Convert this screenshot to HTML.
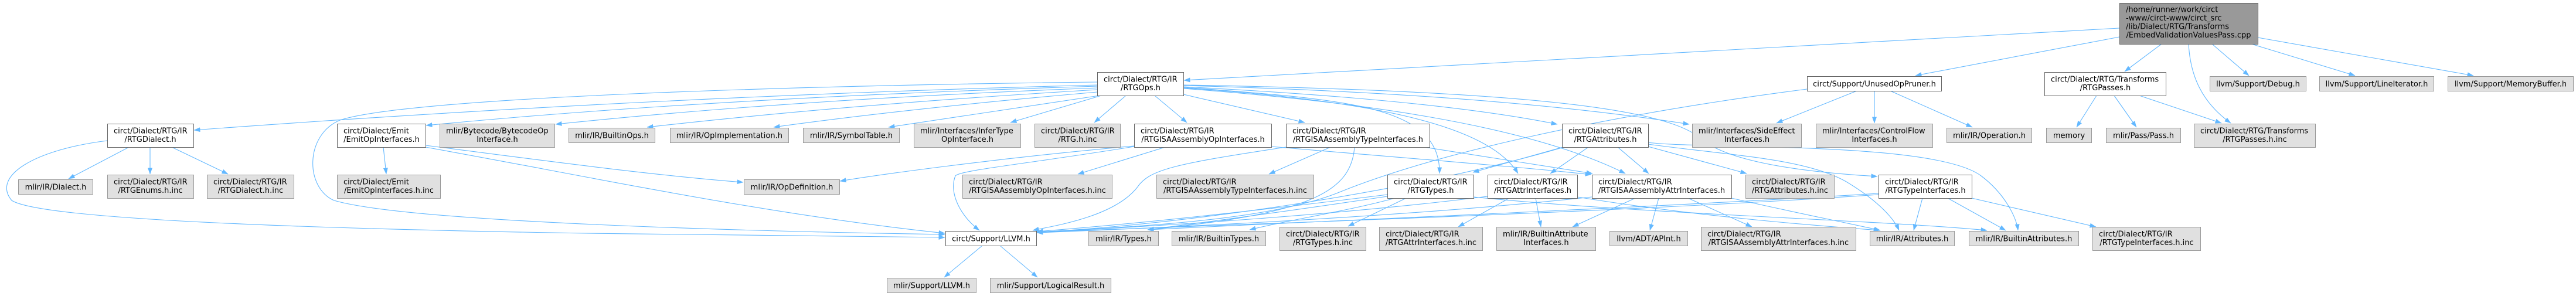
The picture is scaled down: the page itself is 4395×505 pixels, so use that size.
<!DOCTYPE html>
<html><head><meta charset="utf-8">
<style>
html,body{margin:0;padding:0;background:#fff;width:4395px;height:505px;overflow:hidden}
svg{display:block}
.w{fill:#fff;stroke:#666;stroke-width:1}
.g{fill:#e0e0e0;stroke:#999;stroke-width:1}
.r{fill:#999;stroke:#666;stroke-width:1}
.e{fill:none;stroke:#63b8ff;stroke-width:1.1;marker-end:url(#a)}
text{font-family:"DejaVu Sans","Liberation Sans",sans-serif;font-size:13px;fill:#000}
.m{text-anchor:middle}
</style></head><body>
<svg width="4395" height="505" viewBox="0 0 4395 505" xmlns="http://www.w3.org/2000/svg">
<defs><marker id="a" viewBox="0 0 11 8" refX="10.5" refY="4" markerWidth="11" markerHeight="8" orient="auto" markerUnits="userSpaceOnUse"><path d="M0,0 L11,4 L0,8 z" fill="#63b8ff"/></marker></defs>
<g>
<path class="e" d="M3616,48 L2020,137"/>
<path class="e" d="M3616,63 L3268,129"/>
<path class="e" d="M3688,75 L3625,122"/>
<path class="e" d="M3734,75 C3737,130 3757,175 3806,210"/>
<path class="e" d="M3774,75 L3837,129"/>
<path class="e" d="M3841,75 L4018,129"/>
<path class="e" d="M3852,64 L4220,129"/>
<path class="e" d="M3577,163 L3543,217"/>
<path class="e" d="M3607,163 L3645,217"/>
<path class="e" d="M3650,163 L3790,210"/>
<path class="e" d="M3168,155 L3031,210"/>
<path class="e" d="M3198,155 L3198,210"/>
<path class="e" d="M3225,155 L3365,217"/>
<path class="e" d="M3083,152 C2750,195 2450,260 2280,330 C2150,380 1900,388 1769,396"/>
<path class="e" d="M1872,145 Q1100,165 331,222"/>
<path class="e" d="M1872,147 Q1200,168 727,214"/>
<path class="e" d="M1872,150 Q1350,170 948,212"/>
<path class="e" d="M1872,153 Q1450,178 1104,217"/>
<path class="e" d="M1872,157 Q1550,185 1320,217"/>
<path class="e" d="M1876,163 Q1700,190 1516,217"/>
<path class="e" d="M1879,163 L1724,209"/>
<path class="e" d="M1921,163 L1867,209"/>
<path class="e" d="M1970,163 L2025,209"/>
<path class="e" d="M2019,161 L2226,209"/>
<path class="e" d="M1872,140 C1400,145 700,165 580,205 C520,230 520,320 570,342 C700,380 1300,395 1612,400"/>
<path class="e" d="M2019,148 Q2450,170 2657,212"/>
<path class="e" d="M2019,146 Q2550,160 2882,212"/>
<path class="e" d="M2019,149 C2300,170 2458,180 2456,296"/>
<path class="e" d="M2019,150 C2350,172 2540,215 2590,296"/>
<path class="e" d="M2019,151 C2300,172 2600,210 2773,296"/>
<path class="e" d="M2019,145 C2600,155 2840,185 2900,235 C2950,280 3100,295 3203,301"/>
<path class="e" d="M220,251 L117,305"/>
<path class="e" d="M256,251 L256,297"/>
<path class="e" d="M293,251 L389,297"/>
<path class="e" d="M183,240 C60,255 -15,300 20,342 C80,380 700,393 1000,398 C1300,403 1500,405 1612,405"/>
<path class="e" d="M654,251 L659,297"/>
<path class="e" d="M726,248 C900,270 1100,298 1268,311"/>
<path class="e" d="M726,251 C1000,300 1300,365 1612,398"/>
<path class="e" d="M1935,249 C1700,270 1500,298 1433,309"/>
<path class="e" d="M1935,250 C1750,280 1640,290 1630,300 C1618,330 1640,370 1671,393"/>
<path class="e" d="M1988,251 L1839,297"/>
<path class="e" d="M2169,250 C2400,270 2600,285 2715,298"/>
<path class="e" d="M2194,251 C2000,280 1960,290 1940,320 C1900,370 1800,385 1762,393"/>
<path class="e" d="M2270,251 L2165,297"/>
<path class="e" d="M2311,251 C2305,330 2230,365 1958,392"/>
<path class="e" d="M2430,251 L2717,296"/>
<path class="e" d="M2670,250 L2513,294"/>
<path class="e" d="M2710,251 L2645,296"/>
<path class="e" d="M2760,251 L2813,296"/>
<path class="e" d="M2812,250 L2980,296"/>
<path class="e" d="M2812,243 C2900,255 3300,240 3380,300 C3420,330 3440,370 3443,393"/>
<path class="e" d="M2812,246 C2950,265 3080,270 3150,310 C3200,340 3230,370 3240,393"/>
<path class="e" d="M2668,251 C2400,330 2000,385 1769,396"/>
<path class="e" d="M2399,338 L2300,386"/>
<path class="e" d="M2367,335 C2200,360 2050,380 1958,392"/>
<path class="e" d="M2367,332 C2100,365 1900,385 1769,395"/>
<path class="e" d="M2380,338 C2300,360 2200,375 2132,392"/>
<path class="e" d="M2514,336 C2800,365 3200,375 3390,393"/>
<path class="e" d="M2575,338 L2488,387"/>
<path class="e" d="M2620,338 L2629,387"/>
<path class="e" d="M2691,336 C2900,370 3100,385 3207,393"/>
<path class="e" d="M2538,335 C2300,365 2000,385 1769,396"/>
<path class="e" d="M2790,338 L2683,387"/>
<path class="e" d="M2830,338 L2815,393"/>
<path class="e" d="M2880,338 L2989,387"/>
<path class="e" d="M2954,338 C3050,360 3150,380 3208,393"/>
<path class="e" d="M2716,336 C2400,370 2000,388 1769,397"/>
<path class="e" d="M3280,338 L3265,393"/>
<path class="e" d="M3323,338 L3422,393"/>
<path class="e" d="M3364,338 L3576,387"/>
<path class="e" d="M3205,332 C2800,360 2200,380 1769,396"/>
<path class="e" d="M3205,330 C2800,355 2300,375 1958,392"/>
<path class="e" d="M1676,419 L1611,473"/>
<path class="e" d="M1706,419 L1770,473"/>
</g>
<g>
<!-- root -->
<rect class="r" x="3616.5" y="5.5" width="236" height="70"/>
<text x="3627" y="20.5">/home/runner/work/circt</text>
<text x="3627" y="35">-www/circt-www/circt_src</text>
<text x="3627" y="49.5">/lib/Dialect/RTG/Transforms</text>
<text x="3734" y="64" class="m">/EmbedValidationValuesPass.cpp</text>

<!-- white nodes -->
<rect class="w" x="183.5" y="211.5" width="147" height="40"/>
<text x="194" y="227.5">circt/Dialect/RTG/IR</text><text x="256.5" y="242" class="m">/RTGDialect.h</text>
<rect class="w" x="575.5" y="211.5" width="151" height="40"/>
<text x="586" y="227.5">circt/Dialect/Emit</text><text x="651" y="242" class="m">/EmitOpInterfaces.h</text>
<rect class="w" x="1872.5" y="123.5" width="147" height="40"/>
<text x="1883" y="139.5">circt/Dialect/RTG/IR</text><text x="1946" y="154" class="m">/RTGOps.h</text>
<rect class="w" x="1935.5" y="211.5" width="234" height="40"/>
<text x="1946" y="227.5">circt/Dialect/RTG/IR</text><text x="2052.5" y="242" class="m">/RTGISAAssemblyOpInterfaces.h</text>
<rect class="w" x="2194.5" y="211.5" width="245" height="40"/>
<text x="2205" y="227.5">circt/Dialect/RTG/IR</text><text x="2317" y="242" class="m">/RTGISAAssemblyTypeInterfaces.h</text>
<rect class="w" x="2665.5" y="211.5" width="147" height="40"/>
<text x="2676" y="227.5">circt/Dialect/RTG/IR</text><text x="2739" y="242" class="m">/RTGAttributes.h</text>
<rect class="w" x="2367.5" y="298.5" width="147" height="40"/>
<text x="2378" y="314.5">circt/Dialect/RTG/IR</text><text x="2441" y="329" class="m">/RTGTypes.h</text>
<rect class="w" x="2538.5" y="298.5" width="153" height="40"/>
<text x="2549" y="314.5">circt/Dialect/RTG/IR</text><text x="2615" y="329" class="m">/RTGAttrInterfaces.h</text>
<rect class="w" x="2716.5" y="298.5" width="238" height="40"/>
<text x="2727" y="314.5">circt/Dialect/RTG/IR</text><text x="2835" y="329" class="m">/RTGISAAssemblyAttrInterfaces.h</text>
<rect class="w" x="3205.5" y="298.5" width="159" height="40"/>
<text x="3216" y="314.5">circt/Dialect/RTG/IR</text><text x="3285" y="329" class="m">/RTGTypeInterfaces.h</text>
<rect class="w" x="1613.5" y="394.5" width="155" height="25"/>
<text x="1691" y="411.5" class="m">circt/Support/LLVM.h</text>
<rect class="w" x="3083.5" y="130.5" width="229" height="25"/>
<text x="3198" y="147.5" class="m">circt/Support/UnusedOpPruner.h</text>
<rect class="w" x="3488.5" y="123.5" width="207" height="40"/>
<text x="3499" y="139.5">circt/Dialect/RTG/Transforms</text><text x="3592" y="154" class="m">/RTGPasses.h</text>

<!-- gray nodes -->
<rect class="g" x="31.5" y="306.5" width="127" height="25"/>
<text x="95" y="323.5" class="m">mlir/IR/Dialect.h</text>
<rect class="g" x="183.5" y="298.5" width="147" height="40"/>
<text x="194" y="314.5">circt/Dialect/RTG/IR</text><text x="256.5" y="329" class="m">/RTGEnums.h.inc</text>
<rect class="g" x="353.5" y="298.5" width="148" height="40"/>
<text x="364" y="314.5">circt/Dialect/RTG/IR</text><text x="427.5" y="329" class="m">/RTGDialect.h.inc</text>
<rect class="g" x="575.5" y="298.5" width="176" height="40"/>
<text x="586" y="314.5">circt/Dialect/Emit</text><text x="663.5" y="329" class="m">/EmitOpInterfaces.h.inc</text>
<rect class="g" x="750.5" y="211.5" width="196" height="40"/>
<text x="761" y="227.5">mlir/Bytecode/BytecodeOp</text><text x="848.5" y="242" class="m">Interface.h</text>
<rect class="g" x="970.5" y="218.5" width="147" height="25"/>
<text x="1044" y="235.5" class="m">mlir/IR/BuiltinOps.h</text>
<rect class="g" x="1143.5" y="218.5" width="202" height="25"/>
<text x="1244.5" y="235.5" class="m">mlir/IR/OpImplementation.h</text>
<rect class="g" x="1370.5" y="218.5" width="164" height="25"/>
<text x="1452.5" y="235.5" class="m">mlir/IR/SymbolTable.h</text>
<rect class="g" x="1559.5" y="211.5" width="182" height="40"/>
<text x="1570" y="227.5">mlir/Interfaces/InferType</text><text x="1650.5" y="242" class="m">OpInterface.h</text>
<rect class="g" x="1765.5" y="211.5" width="146" height="40"/>
<text x="1776" y="227.5">circt/Dialect/RTG/IR</text><text x="1838.5" y="242" class="m">/RTG.h.inc</text>
<rect class="g" x="1269.5" y="306.5" width="163" height="25"/>
<text x="1351" y="323.5" class="m">mlir/IR/OpDefinition.h</text>
<rect class="g" x="1642.5" y="298.5" width="255" height="40"/>
<text x="1653" y="314.5">circt/Dialect/RTG/IR</text><text x="1770" y="329" class="m">/RTGISAAssemblyOpInterfaces.h.inc</text>
<rect class="g" x="1973.5" y="298.5" width="268" height="40"/>
<text x="1984" y="314.5">circt/Dialect/RTG/IR</text><text x="2107.5" y="329" class="m">/RTGISAAssemblyTypeInterfaces.h.inc</text>
<rect class="g" x="1857.5" y="394.5" width="119" height="25"/>
<text x="1917" y="411.5" class="m">mlir/IR/Types.h</text>
<rect class="g" x="1999.5" y="394.5" width="160" height="25"/>
<text x="2079.5" y="411.5" class="m">mlir/IR/BuiltinTypes.h</text>
<rect class="g" x="2183.5" y="387.5" width="147" height="40"/>
<text x="2194" y="403.5">circt/Dialect/RTG/IR</text><text x="2257" y="418" class="m">/RTGTypes.h.inc</text>
<rect class="g" x="2353.5" y="387.5" width="176" height="40"/>
<text x="2364" y="403.5">circt/Dialect/RTG/IR</text><text x="2441.5" y="418" class="m">/RTGAttrInterfaces.h.inc</text>
<rect class="g" x="2553.5" y="387.5" width="169" height="40"/>
<text x="2564" y="403.5">mlir/IR/BuiltinAttribute</text><text x="2638" y="418" class="m">Interfaces.h</text>
<rect class="g" x="2746.5" y="394.5" width="133" height="25"/>
<text x="2813" y="411.5" class="m">llvm/ADT/APInt.h</text>
<rect class="g" x="2902.5" y="387.5" width="264" height="40"/>
<text x="2913" y="403.5">circt/Dialect/RTG/IR</text><text x="3034.5" y="418" class="m">/RTGISAAssemblyAttrInterfaces.h.inc</text>
<rect class="g" x="2887.5" y="211.5" width="186" height="40"/>
<text x="2898" y="227.5">mlir/Interfaces/SideEffect</text><text x="2980.5" y="242" class="m">Interfaces.h</text>
<rect class="g" x="3098.5" y="211.5" width="199" height="40"/>
<text x="3109" y="227.5">mlir/Interfaces/ControlFlow</text><text x="3198" y="242" class="m">Interfaces.h</text>
<rect class="g" x="3321.5" y="218.5" width="145" height="25"/>
<text x="3394" y="235.5" class="m">mlir/IR/Operation.h</text>
<rect class="g" x="3491.5" y="218.5" width="77" height="25"/>
<text x="3530" y="235.5" class="m">memory</text>
<rect class="g" x="3593.5" y="218.5" width="127" height="25"/>
<text x="3657" y="235.5" class="m">mlir/Pass/Pass.h</text>
<rect class="g" x="3743.5" y="211.5" width="207" height="40"/>
<text x="3754" y="227.5">circt/Dialect/RTG/Transforms</text><text x="3847" y="242" class="m">/RTGPasses.h.inc</text>
<rect class="g" x="2978.5" y="298.5" width="151" height="40"/>
<text x="2989" y="314.5">circt/Dialect/RTG/IR</text><text x="3054" y="329" class="m">/RTGAttributes.h.inc</text>
<rect class="g" x="3190.5" y="394.5" width="144" height="25"/>
<text x="3262.5" y="411.5" class="m">mlir/IR/Attributes.h</text>
<rect class="g" x="3359.5" y="394.5" width="187" height="25"/>
<text x="3453" y="411.5" class="m">mlir/IR/BuiltinAttributes.h</text>
<rect class="g" x="3570.5" y="387.5" width="184" height="40"/>
<text x="3581" y="403.5">circt/Dialect/RTG/IR</text><text x="3662.5" y="418" class="m">/RTGTypeInterfaces.h.inc</text>
<rect class="g" x="3770.5" y="130.5" width="164" height="25"/>
<text x="3852.5" y="147.5" class="m">llvm/Support/Debug.h</text>
<rect class="g" x="3957.5" y="130.5" width="195" height="25"/>
<text x="4055" y="147.5" class="m">llvm/Support/LineIterator.h</text>
<rect class="g" x="4176.5" y="130.5" width="214" height="25"/>
<text x="4283.5" y="147.5" class="m">llvm/Support/MemoryBuffer.h</text>
<rect class="g" x="1513.5" y="474.5" width="152" height="25"/>
<text x="1589.5" y="491.5" class="m">mlir/Support/LLVM.h</text>
<rect class="g" x="1689.5" y="474.5" width="206" height="25"/>
<text x="1792.5" y="491.5" class="m">mlir/Support/LogicalResult.h</text>
</g>
</svg>
</body></html>
